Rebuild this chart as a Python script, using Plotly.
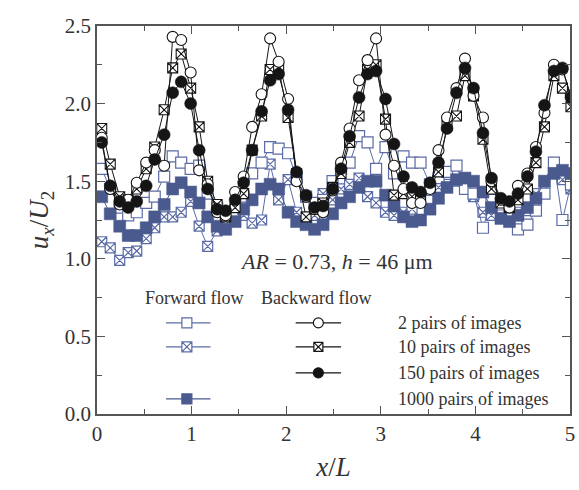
import plotly.graph_objects as go

# Streamwise position along the channel (x/L), shared by all six profiles
x_pos = [0.05, 0.14, 0.24, 0.33, 0.42, 0.52, 0.61, 0.71, 0.80, 0.89,
         0.99, 1.08, 1.17, 1.27, 1.36, 1.46, 1.55, 1.64, 1.74, 1.83,
         1.92, 2.02, 2.11, 2.21, 2.30, 2.39, 2.49, 2.58, 2.67, 2.77,
         2.86, 2.95, 3.05, 3.14, 3.24, 3.33, 3.42, 3.52, 3.61, 3.70,
         3.80, 3.89, 3.98, 4.08, 4.17, 4.27, 4.36, 4.45, 4.55, 4.64,
         4.73, 4.83, 4.92, 5.01]

# Forward flow, u_x / U_2
fwd_2 = [1.58, 1.45, 1.33, 1.28, 1.30, 1.36, 1.40, 1.53, 1.66, 1.62,
         1.58, 1.60, 1.42, 1.33, 1.28, 1.30, 1.40, 1.55, 1.62, 1.72,
         1.71, 1.68, 1.52, 1.40, 1.36, 1.38, 1.50, 1.58, 1.62, 1.79,
         1.75, 1.58, 1.72, 1.55, 1.66, 1.62, 1.62, 1.48, 1.52, 1.56,
         1.60, 1.45, 1.42, 1.20, 1.38, 1.35, 1.30, 1.19, 1.22, 1.31,
         1.42, 1.62, 1.25, 1.48]
fwd_10 = [1.11, 1.07, 0.99, 1.04, 1.05, 1.13, 1.20, 1.27, 1.27, 1.30,
          1.37, 1.21, 1.08, 1.18, 1.22, 1.25, 1.28, 1.23, 1.25, 1.61,
          1.38, 1.51, 1.30, 1.24, 1.28, 1.42, 1.38, 1.45, 1.48, 1.52,
          1.40, 1.36, 1.30, 1.28, 1.30, 1.32, 1.38, 1.44, 1.46, 1.48,
          1.50, 1.46, 1.40, 1.30, 1.28, 1.26, 1.30, 1.30, 1.31, 1.42,
          1.50, 1.62, 1.51, 1.45]
fwd_1000 = [1.40, 1.29, 1.21, 1.15, 1.15, 1.20, 1.27, 1.35, 1.45, 1.49,
            1.43, 1.36, 1.27, 1.21, 1.19, 1.24, 1.32, 1.38, 1.45, 1.48,
            1.45, 1.30, 1.24, 1.22, 1.19, 1.22, 1.29, 1.36, 1.40, 1.46,
            1.50, 1.50, 1.41, 1.34, 1.27, 1.24, 1.25, 1.32, 1.39, 1.46,
            1.51, 1.52, 1.50, 1.43, 1.33, 1.26, 1.24, 1.28, 1.33, 1.39,
            1.50, 1.55, 1.57, 1.55]

# Backward flow, u_x / U_2
bwd_2 = [1.78, 1.45, 1.35, 1.38, 1.49, 1.62, 1.70, 1.60, 2.43, 2.41,
         2.20, 1.57, 1.48, 1.30, 1.28, 1.43, 1.53, 1.85, 2.06, 2.42,
         2.27, 2.03, 1.50, 1.40, 1.32, 1.30, 1.44, 1.62, 1.84, 2.15,
         2.28, 2.42, 1.80, 1.60, 1.45, 1.36, 1.36, 1.45, 1.70, 1.91,
         2.10, 2.29, 2.05, 1.91, 1.50, 1.38, 1.33, 1.47, 1.55, 1.72,
         1.94, 2.25, 2.22, 2.05]
bwd_10 = [1.84, 1.61, 1.40, 1.38, 1.45, 1.58, 1.72, 1.96, 2.23, 2.32,
          2.10, 1.85, 1.50, 1.35, 1.27, 1.33, 1.42, 1.70, 1.92, 2.22,
          2.23, 1.91, 1.55, 1.27, 1.32, 1.36, 1.46, 1.55, 1.75, 1.92,
          2.22, 2.25, 1.90, 1.41, 1.42, 1.40, 1.40, 1.46, 1.56, 1.86,
          1.92, 2.18, 2.05, 1.77, 1.45, 1.36, 1.33, 1.38, 1.45, 1.62,
          1.85, 2.18, 2.10, 1.98]
bwd_150 = [1.75, 1.47, 1.37, 1.33, 1.37, 1.47, 1.64, 1.80, 2.07, 2.14,
           2.00, 1.70, 1.45, 1.32, 1.31, 1.38, 1.49, 1.70, 1.95, 2.15,
           2.19, 1.96, 1.56, 1.41, 1.33, 1.34, 1.45, 1.58, 1.79, 2.04,
           2.19, 2.21, 2.03, 1.74, 1.53, 1.46, 1.43, 1.49, 1.62, 1.84,
           2.07, 2.23, 2.10, 1.81, 1.52, 1.39, 1.37, 1.42, 1.53, 1.69,
           1.99, 2.21, 2.23, 2.04]

pair_labels = ["2 pairs of images", "10 pairs of images",
               "150 pairs of images", "1000 pairs of images"]

BLUE = "#4a5a8e"
BLUE_LINE = "#5b6ba6"
BLACK = "#151515"
FONT = "Liberation Serif, Times New Roman, serif"
TEXT = "#333"

fig = go.Figure()


def add_series(y, symbol, fill, edge, line_color, size, lw):
    fig.add_trace(go.Scatter(
        x=x_pos, y=y, mode="lines+markers",
        line=dict(color=line_color, width=1),
        marker=dict(symbol=symbol, size=size, color=fill,
                    line=dict(color=edge, width=lw)),
        showlegend=False))


# forward flow (blue squares)
add_series(fwd_10, "square-x", "white", BLUE_LINE, BLUE_LINE, 10, 1.2)
add_series(fwd_2, "square", "white", BLUE_LINE, BLUE_LINE, 11, 1.2)
add_series(fwd_1000, "square", BLUE, BLUE, BLUE, 12, 0.5)
# backward flow (black circles / crossed squares)
add_series(bwd_10, "square-x", "white", BLACK, BLACK, 10, 1.1)
add_series(bwd_2, "circle", "white", BLACK, BLACK, 11, 1.1)
add_series(bwd_150, "circle", BLACK, BLACK, BLACK, 12, 0.5)

# hand-built key: sample line with a marker in the middle
key_rows = [0.587, 0.432, 0.265, 0.097]
fwd_key_x = [0.73, 0.95, 1.20]
bwd_key_x = [2.10, 2.34, 2.58]
fwd_key = [("square", "white", BLUE_LINE, 0), ("square-x", "white", BLUE_LINE, 1),
           ("square", BLUE, BLUE, 3)]
bwd_key = [("circle", "white", BLACK, 0), ("square-x", "white", BLACK, 1),
           ("circle", BLACK, BLACK, 2)]


def add_key(xs, sym, fill, edge, row, size):
    yk = key_rows[row]
    fig.add_trace(go.Scatter(x=xs, y=[yk] * 3, mode="lines",
                             line=dict(color=edge, width=1.2),
                             showlegend=False, hoverinfo="skip"))
    fig.add_trace(go.Scatter(x=[xs[1]], y=[yk], mode="markers",
                             marker=dict(symbol=sym, size=size, color=fill,
                                         line=dict(color=edge, width=1.2)),
                             showlegend=False, hoverinfo="skip"))


for sym, fill, edge, row in fwd_key:
    add_key(fwd_key_x, sym, fill, edge, row, 10)
for sym, fill, edge, row in bwd_key:
    add_key(bwd_key_x, sym, fill, edge, row, 10 if sym != "square-x" else 9)

for row, label in enumerate(pair_labels):
    fig.add_annotation(x=3.16, y=key_rows[row], text=label, showarrow=False,
                       xanchor="left", yanchor="middle",
                       font=dict(family=FONT, size=18, color=TEXT))

fig.add_annotation(x=1.03, y=0.75, text="Forward flow", showarrow=False,
                   font=dict(family=FONT, size=18, color=TEXT))
fig.add_annotation(x=2.32, y=0.75, text="Backward flow", showarrow=False,
                   font=dict(family=FONT, size=18, color=TEXT))
fig.add_annotation(x=2.53, y=0.98,
                   text="<i>AR</i> = 0.73, <i>h</i> = 46 μm", showarrow=False,
                   font=dict(family=FONT, size=22, color=TEXT))

axis_common = dict(
    showline=True, linecolor="#555", linewidth=1.5, mirror="allticks",
    ticks="inside", ticklen=8, tickwidth=1.3, tickcolor="#555",
    showgrid=False, zeroline=False,
    tickfont=dict(family=FONT, size=21, color=TEXT),
)

fig.update_xaxes(range=[0, 5], tick0=0, dtick=1,
                 minor=dict(ticks="inside", ticklen=5, dtick=0.5,
                            tickcolor="#555", tickwidth=1.2, showgrid=False),
                 title=dict(text="<i>x</i>/<i>L</i>", standoff=12,
                            font=dict(family=FONT, size=27, color=TEXT)),
                 **axis_common)
fig.update_yaxes(range=[0, 2.5], tick0=0, dtick=0.5, tickformat=".1f",
                 minor=dict(ticks="inside", ticklen=5, dtick=0.25,
                            tickcolor="#555", tickwidth=1.2, showgrid=False),
                 title=dict(text="<i>u</i><sub><i>x</i></sub>/<i>U</i><sub>2</sub>",
                            standoff=8,
                            font=dict(family=FONT, size=27, color=TEXT)),
                 **axis_common)

fig.update_layout(
    width=579, height=490,
    margin=dict(l=97, r=4, t=26, b=76),
    paper_bgcolor="white", plot_bgcolor="white",
)

fig.write_html("out.html")
